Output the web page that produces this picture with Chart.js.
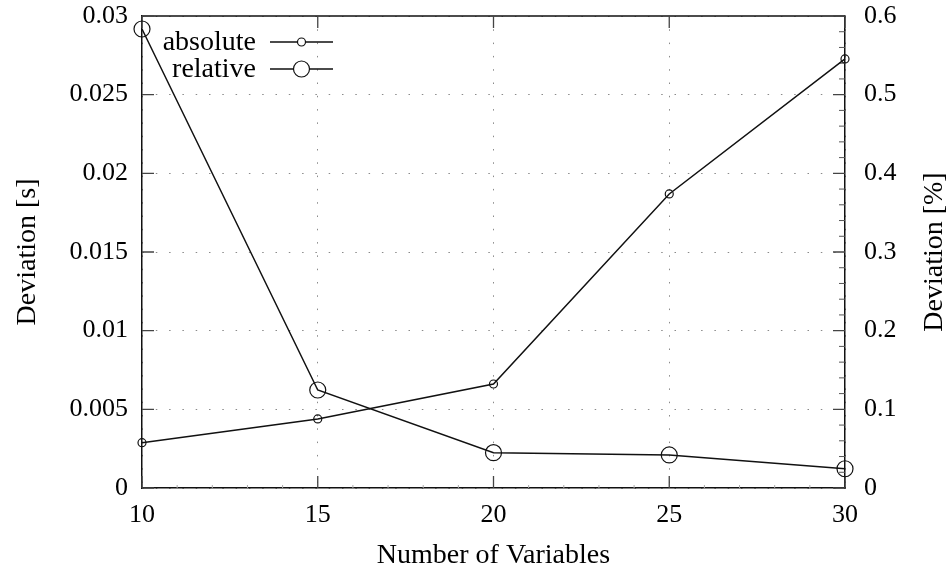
<!DOCTYPE html>
<html>
<head>
<meta charset="utf-8">
<script src="https://cdn.jsdelivr.net/npm/chart.js@4/dist/chart.umd.min.js"></script>
<style>
  html, body { margin: 0; padding: 0; background: #fff; }
  #wrap { width: 948px; height: 569px; position: relative; }
</style>
</head>
<body>
<div id="wrap"><canvas id="c" width="948" height="569"></canvas></div>
<script>
// ---- data ----
const numVariables = [10, 15, 20, 25, 30];
const absoluteDeviation = [0.00288, 0.00439, 0.00661, 0.01869, 0.02727];   // seconds (left axis)
const relativeDeviation = [0.5835, 0.1246, 0.0449, 0.0420, 0.0245];        // percent (right axis)

const xTickValues = [10, 15, 20, 25, 30];
const xTickLabels = ['10', '15', '20', '25', '30'];
const leftTickValues = [0, 0.005, 0.01, 0.015, 0.02, 0.025, 0.03];
const leftTickLabels = ['0', '0.005', '0.01', '0.015', '0.02', '0.025', '0.03'];
const rightTickValues = [0, 0.1, 0.2, 0.3, 0.4, 0.5, 0.6];
const rightTickLabels = ['0', '0.1', '0.2', '0.3', '0.4', '0.5', '0.6'];
const rightMinorTickValues = [0.02, 0.04, 0.06, 0.08, 0.12, 0.14, 0.16, 0.18, 0.22, 0.24, 0.26, 0.28,
                              0.32, 0.34, 0.36, 0.38, 0.42, 0.44, 0.46, 0.48, 0.52, 0.54, 0.56, 0.58];
const xMinorTickValues = [11, 12, 13, 14, 16, 17, 18, 19, 21, 22, 23, 24, 26, 27, 28, 29];

const seriesLabels = ['absolute', 'relative'];
const xTitle = 'Number of Variables';
const leftTitle = 'Deviation [s]';
const rightTitle = 'Deviation [%]';

const FONT = "'Liberation Serif', 'DejaVu Serif', serif";
const INK = '#111';

// ---- plugins ----
const framePlugin = {
  id: 'frameTicks',
  beforeDatasetsDraw(chart) {
    const ctx = chart.ctx;
    const a = chart.chartArea;
    const xs = chart.scales.x, yl = chart.scales.y, yr = chart.scales.y1;
    ctx.save();
    // top frame line
    ctx.strokeStyle = INK;
    ctx.lineWidth = 1.5;
    ctx.beginPath();
    ctx.moveTo(a.left, a.top);
    ctx.lineTo(a.right, a.top);
    ctx.stroke();
    // major inward ticks
    ctx.strokeStyle = '#444';
    ctx.lineWidth = 1.3;
    ctx.beginPath();
    xTickValues.forEach(v => {
      const px = xs.getPixelForValue(v);
      ctx.moveTo(px, a.bottom); ctx.lineTo(px, a.bottom - 12);
      ctx.moveTo(px, a.top); ctx.lineTo(px, a.top + 12);
    });
    leftTickValues.forEach(v => {
      const py = yl.getPixelForValue(v);
      ctx.moveTo(a.left, py); ctx.lineTo(a.left + 12, py);
    });
    rightTickValues.forEach(v => {
      const py = yr.getPixelForValue(v);
      ctx.moveTo(a.right, py); ctx.lineTo(a.right - 12, py);
    });
    ctx.stroke();
    // minor ticks
    ctx.lineWidth = 1;
    ctx.strokeStyle = '#555';
    ctx.beginPath();
    rightMinorTickValues.forEach(v => {
      const py = yr.getPixelForValue(v);
      ctx.moveTo(a.right, py); ctx.lineTo(a.right - 6, py);
    });
    ctx.stroke();
    ctx.strokeStyle = '#aaa';
    ctx.beginPath();
    xMinorTickValues.forEach(v => {
      const px = xs.getPixelForValue(v);
      ctx.moveTo(px, a.bottom); ctx.lineTo(px, a.bottom - 3);
    });
    ctx.stroke();
    ctx.restore();
  },
  afterDraw(chart) {
    const ctx = chart.ctx;
    const a = chart.chartArea;
    ctx.save();
    ctx.fillStyle = '#000';
    ctx.font = '28px ' + FONT;
    // x title
    ctx.textAlign = 'center';
    ctx.textBaseline = 'alphabetic';
    ctx.fillText(xTitle, (a.left + a.right) / 2, 563);
    const cy = (a.top + a.bottom) / 2;
    // left title
    ctx.save();
    ctx.translate(35, cy);
    ctx.rotate(-Math.PI / 2);
    ctx.fillText(leftTitle, 0, 0);
    ctx.restore();
    // right title
    ctx.save();
    ctx.translate(942, cy);
    ctx.rotate(-Math.PI / 2);
    ctx.fillText(rightTitle, 0, 0);
    ctx.restore();

    // legend (inside, top-left, text right-aligned before samples)
    const rows = [42, 69];
    const textRight = a.left + 114;
    const lineStart = a.left + 128, lineEnd = a.left + 191;
    chart.data.datasets.forEach((ds, i) => {
      const y = rows[i];
      ctx.textAlign = 'right';
      ctx.textBaseline = 'middle';
      ctx.font = '28px ' + FONT;
      ctx.fillText(ds.label, textRight, y + 1);
      ctx.strokeStyle = ds.borderColor;
      ctx.lineWidth = 1.5;
      const cx = (lineStart + lineEnd) / 2;
      const r = ds.pointRadius;
      ctx.beginPath();
      ctx.moveTo(lineStart, y); ctx.lineTo(cx - r, y);
      ctx.moveTo(cx + r, y); ctx.lineTo(lineEnd, y);
      ctx.stroke();
      ctx.lineWidth = ds.pointBorderWidth;
      ctx.beginPath();
      ctx.arc(cx, y, r, 0, Math.PI * 2);
      ctx.stroke();
    });
    ctx.restore();
  }
};

// ---- chart ----
const toPoints = (ys) => numVariables.map((x, i) => ({ x: x, y: ys[i] }));
const noPad = (s) => { s.paddingTop = 0; s.paddingBottom = 0; s.paddingLeft = 0; s.paddingRight = 0; };

new Chart(document.getElementById('c'), {
  type: 'line',
  data: {
    datasets: [
      {
        label: seriesLabels[0],
        data: toPoints(absoluteDeviation),
        yAxisID: 'y',
        borderColor: INK,
        borderWidth: 1.5,
        pointRadius: 4,
        pointBorderWidth: 1.2,
        pointBorderColor: INK,
        pointBackgroundColor: 'rgba(0,0,0,0)',
        pointStyle: 'circle',
        fill: false,
        tension: 0,
        clip: false
      },
      {
        label: seriesLabels[1],
        data: toPoints(relativeDeviation),
        yAxisID: 'y1',
        borderColor: INK,
        borderWidth: 1.5,
        pointRadius: 8,
        pointBorderWidth: 1.2,
        pointBorderColor: INK,
        pointBackgroundColor: 'rgba(0,0,0,0)',
        pointStyle: 'circle',
        fill: false,
        tension: 0,
        clip: false
      }
    ]
  },
  options: {
    responsive: false,
    animation: false,
    devicePixelRatio: 1,
    layout: { padding: { left: 0, right: 0, top: 16, bottom: 0 } },
    plugins: { legend: { display: false }, tooltip: { enabled: false } },
    scales: {
      x: {
        type: 'linear',
        position: 'bottom',
        min: 10, max: 30,
        afterBuildTicks: (s) => { s.ticks = xTickValues.map(v => ({ value: v })); },
        afterFit: (s) => { s.height = 81; noPad(s); },
        ticks: {
          padding: 12,
          color: '#000',
          font: { family: FONT, size: 26 },
          maxRotation: 0,
          callback: (v, i) => xTickLabels[i]
        },
        grid: { color: '#8a8a8a', lineWidth: 1, drawTicks: false },
        border: { color: INK, width: 1.5, dash: [1.5, 11.8] },
        title: { display: false }
      },
      y: {
        type: 'linear',
        position: 'left',
        min: 0, max: 0.03,
        afterBuildTicks: (s) => { s.ticks = leftTickValues.map(v => ({ value: v })); },
        afterFit: (s) => { s.width = 142; noPad(s); },
        ticks: {
          padding: 14,
          color: '#000',
          font: { family: FONT, size: 26 },
          callback: (v, i) => leftTickLabels[i]
        },
        grid: { color: '#8a8a8a', lineWidth: 1, drawTicks: false },
        border: { color: INK, width: 1.5, dash: [1.5, 11.8] },
        title: { display: false }
      },
      y1: {
        type: 'linear',
        position: 'right',
        min: 0, max: 0.6,
        afterBuildTicks: (s) => { s.ticks = rightTickValues.map(v => ({ value: v })); },
        afterFit: (s) => { s.width = 103; noPad(s); },
        ticks: {
          padding: 19,
          color: '#000',
          font: { family: FONT, size: 26 },
          callback: (v, i) => rightTickLabels[i]
        },
        grid: { drawOnChartArea: false, drawTicks: false },
        border: { color: INK, width: 1.5 },
        title: { display: false }
      }
    }
  },
  plugins: [framePlugin]
});
</script>
</body>
</html>
